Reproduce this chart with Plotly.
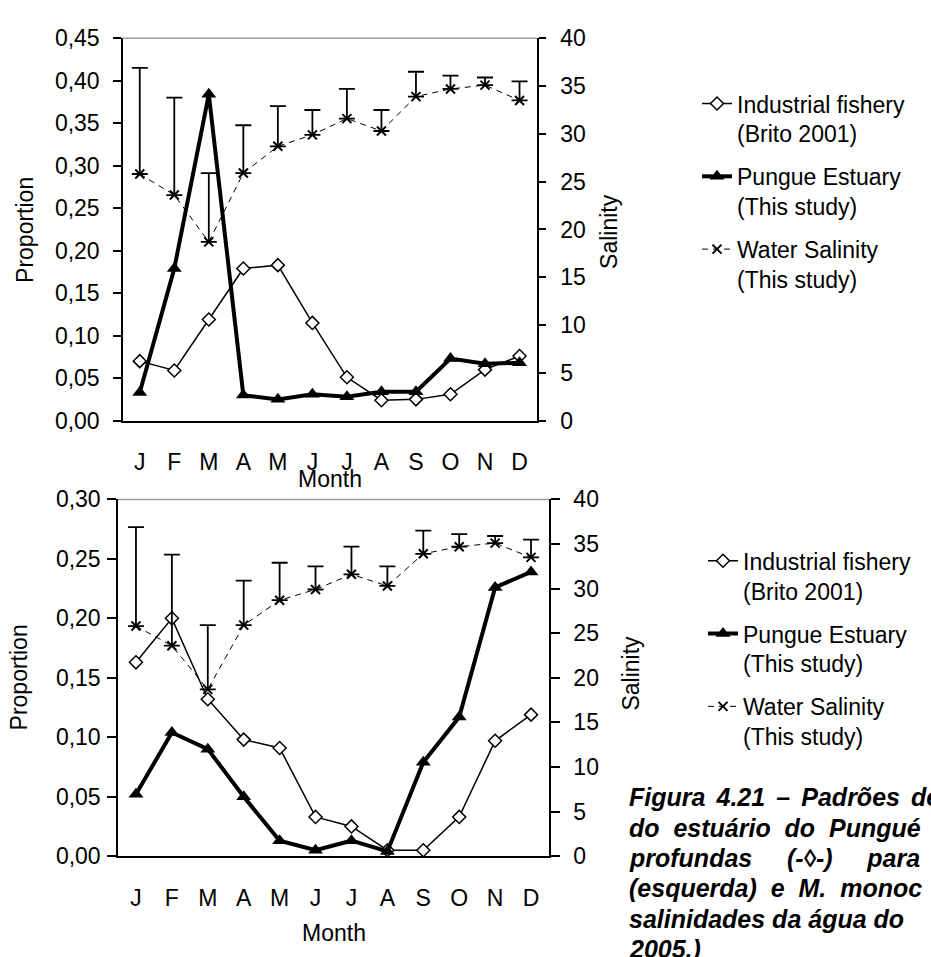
import plotly.graph_objects as go

# ---------------- data ----------------
months = ["J", "F", "M", "A", "M", "J", "J", "A", "S", "O", "N", "D"]

# top panel (proportion)
industrial_top = [0.070, 0.059, 0.119, 0.179, 0.183, 0.115, 0.051, 0.024, 0.025, 0.031, 0.060, 0.076]
pungue_top = [0.033, 0.179, 0.384, 0.030, 0.025, 0.031, 0.028, 0.034, 0.034, 0.073, 0.067, 0.068]

# bottom panel (proportion)
industrial_bot = [0.163, 0.200, 0.132, 0.098, 0.091, 0.033, 0.025, 0.005, 0.005, 0.033, 0.097, 0.119]
pungue_bot = [0.052, 0.104, 0.090, 0.050, 0.013, 0.005, 0.013, 0.004, 0.079, 0.117, 0.226, 0.239]

# water salinity (both panels) and upper error
salinity = [25.8, 23.6, 18.7, 25.9, 28.7, 29.9, 31.6, 30.3, 33.9, 34.7, 35.1, 33.5]
salinity_err = [11.1, 10.2, 7.2, 5.0, 4.2, 2.6, 3.1, 2.2, 2.6, 1.4, 0.8, 2.0]

left_ticks_top = [0, 0.05, 0.10, 0.15, 0.20, 0.25, 0.30, 0.35, 0.40, 0.45]
left_ticks_bot = [0, 0.05, 0.10, 0.15, 0.20, 0.25, 0.30]
right_ticks = [0, 5, 10, 15, 20, 25, 30, 35, 40]

legend_names = ["Industrial fishery<br>(Brito 2001)",
                "Pungue Estuary<br>(This study)",
                "Water Salinity<br>(This study)"]

SP = " \u2006"  # slightly widened (justified) word gap
caption_lines = [
    "Figura" + SP + "4.21" + SP + "–" + SP + "Padrões" + SP + "de",
    "do\u00a0 estuário\u00a0 do\u00a0 Pungué",
    "profundas\u00a0\u00a0\u00a0\u00a0 (-◊-)\u00a0\u00a0\u00a0\u00a0 para",
    "(esquerda)\u00a0 e\u00a0 M.\u00a0 monoc",
    "salinidades da água do",
    "2005.)",
]

# ---------------- layout helpers ----------------
W, H = 931, 957
def px(x):
    return x / W
def py(y):
    return 1 - y / H

idx = list(range(len(months)))
bounds = [i - 0.5 for i in range(len(months) + 1)]
FONT = dict(family="Liberation Sans, Arial, sans-serif", size=23, color="black")

fig = go.Figure()

def add_panel(xa, ya, ya2, ind, pun, legend):
    fig.add_trace(go.Scatter(
        x=idx, y=ind, xaxis=xa, yaxis=ya, mode="lines+markers",
        name=legend_names[0], legend=legend, legendgroup=legend + "a",
        line=dict(color="black", width=1.5),
        marker=dict(symbol="diamond", size=10, color="white",
                    line=dict(color="black", width=1.5)),
    ))
    fig.add_trace(go.Scatter(
        x=idx, y=pun, xaxis=xa, yaxis=ya, mode="lines+markers",
        name=legend_names[1], legend=legend, legendgroup=legend + "b",
        line=dict(color="black", width=4),
        marker=dict(symbol="triangle-up", size=13, color="black"),
    ))
    fig.add_trace(go.Scatter(
        x=idx, y=salinity, xaxis=xa, yaxis=ya2, mode="lines+markers",
        name=legend_names[2], legend=legend, legendgroup=legend + "c",
        line=dict(color="black", width=1, dash="6px,5px"),
        marker=dict(symbol="x-thin", size=9, color="black",
                    line=dict(color="black", width=2)),
        error_y=dict(type="data", symmetric=False, array=salinity_err,
                     arrayminus=[0] * len(salinity), color="black",
                     thickness=1.8, width=8),
    ))

add_panel("x", "y", "y2", industrial_top, pungue_top, "legend")
add_panel("x2", "y3", "y4", industrial_bot, pungue_bot, "legend2")

xr = [-0.5, len(months) - 0.5]

def month_axis(domain, anchor):
    return dict(domain=domain, anchor=anchor, range=xr, tickmode="array",
                tickvals=idx, ticktext=months, ticks="", showline=True,
                linecolor="black", linewidth=1.5, showgrid=False, zeroline=False,
                tickfont=FONT, ticklabelstandoff=20, fixedrange=True)

def tick_axis(over, anchor, side, ln):
    return dict(overlaying=over, anchor=anchor, range=xr, tickmode="array",
                tickvals=bounds, ticks=side, ticklen=ln, tickwidth=1.5,
                tickcolor="black", showticklabels=False, showline=False,
                showgrid=False, zeroline=False)

def left_axis(domain, anchor, rng, tv, ln, standoff):
    return dict(domain=domain, anchor=anchor, range=rng, tickmode="array",
                tickvals=tv, tickformat=".2f", ticks="outside", ticklen=ln,
                tickwidth=1.5, tickcolor="black", showline=True,
                linecolor="black", linewidth=1.5, showgrid=False,
                zeroline=False, tickfont=FONT, ticklabelstandoff=standoff)

def right_axis(over, anchor, ticks, ln, labels, standoff):
    d = dict(overlaying=over, anchor=anchor, side="right", range=[0, 40],
             tickmode="array", tickvals=right_ticks, ticks=ticks, ticklen=ln,
             tickwidth=1.5, tickcolor="black", showgrid=False, zeroline=False,
             showticklabels=labels, showline=labels, linecolor="black",
             linewidth=1.5, tickfont=FONT)
    if labels:
        d["ticklabelstandoff"] = standoff
    return d

top_x = [px(122.5), px(536.8)]
top_y = [py(419), py(26)]
bot_x = [px(118), px(549)]
bot_y = [py(866.7), py(500)]

fig.update_layout(
    width=W, height=H, autosize=False,
    margin=dict(l=0, r=0, t=0, b=0),
    paper_bgcolor="white", plot_bgcolor="white",
    separators=",.",
    font=FONT,
    showlegend=True,
    xaxis=month_axis(top_x, "y"),
    xaxis3=tick_axis("x", "y", "outside", 7),
    xaxis4=tick_axis("x", "y", "inside", 7),
    yaxis=left_axis(top_y, "x", [0, 0.45], left_ticks_top, 7.5, 9),
    yaxis2=right_axis("y", "x", "outside", 7, True, 10),
    yaxis5=right_axis("y", "x", "inside", 7, False, 0),
    xaxis2=month_axis(bot_x, "y3"),
    xaxis5=tick_axis("x2", "y3", "outside", 9),
    xaxis6=tick_axis("x2", "y3", "inside", 9),
    yaxis3=left_axis(bot_y, "x2", [0, 0.30], left_ticks_bot, 9, 2),
    yaxis4=right_axis("y3", "x2", "outside", 9, True, 9),
    yaxis6=right_axis("y3", "x2", "inside", 9, False, 0),
    legend=dict(x=px(697), y=py(71), xanchor="left", yanchor="top",
                font=FONT, valign="top", tracegroupgap=10,
                bgcolor="rgba(0,0,0,0)", itemwidth=30),
    legend2=dict(x=px(703), y=py(541), xanchor="left", yanchor="top",
                 font=FONT, valign="top", tracegroupgap=10,
                 bgcolor="rgba(0,0,0,0)", itemwidth=30),
)

# gray top border of the plot areas
for xr_, yr_ in (("x", "y"), ("x2", "y3")):
    fig.add_shape(type="line", xref=f"{xr_} domain", yref=f"{yr_} domain",
                  x0=0, x1=1, y0=1, y1=1, line=dict(color="#9a9a9a", width=1.5))

# axis titles
titles = [
    ("Proportion", 25, 223, -90),
    ("Salinity", 609, 225, -90),
    ("Month", 329.6, 479, 0),
    ("Proportion", 19, 683, -90),
    ("Salinity", 631, 679, -90),
    ("Month", 333.5, 946, 0),
]
for t, x, y, ang in titles:
    fig.add_annotation(text=t, x=px(x), y=py(y), xref="paper", yref="paper",
                       showarrow=False, textangle=ang, font=FONT,
                       xanchor="center", yanchor="middle")

# caption
cap_font = dict(family="Liberation Sans, Arial, sans-serif", size=25, color="black")
for i, line in enumerate(caption_lines):
    fig.add_annotation(text=f"<b><i>{line}</i></b>", x=px(627), y=py(806 + 31.3 * i),
                       xref="paper", yref="paper", showarrow=False,
                       xanchor="left", yanchor="middle", font=cap_font)

fig.write_html("out.html")
